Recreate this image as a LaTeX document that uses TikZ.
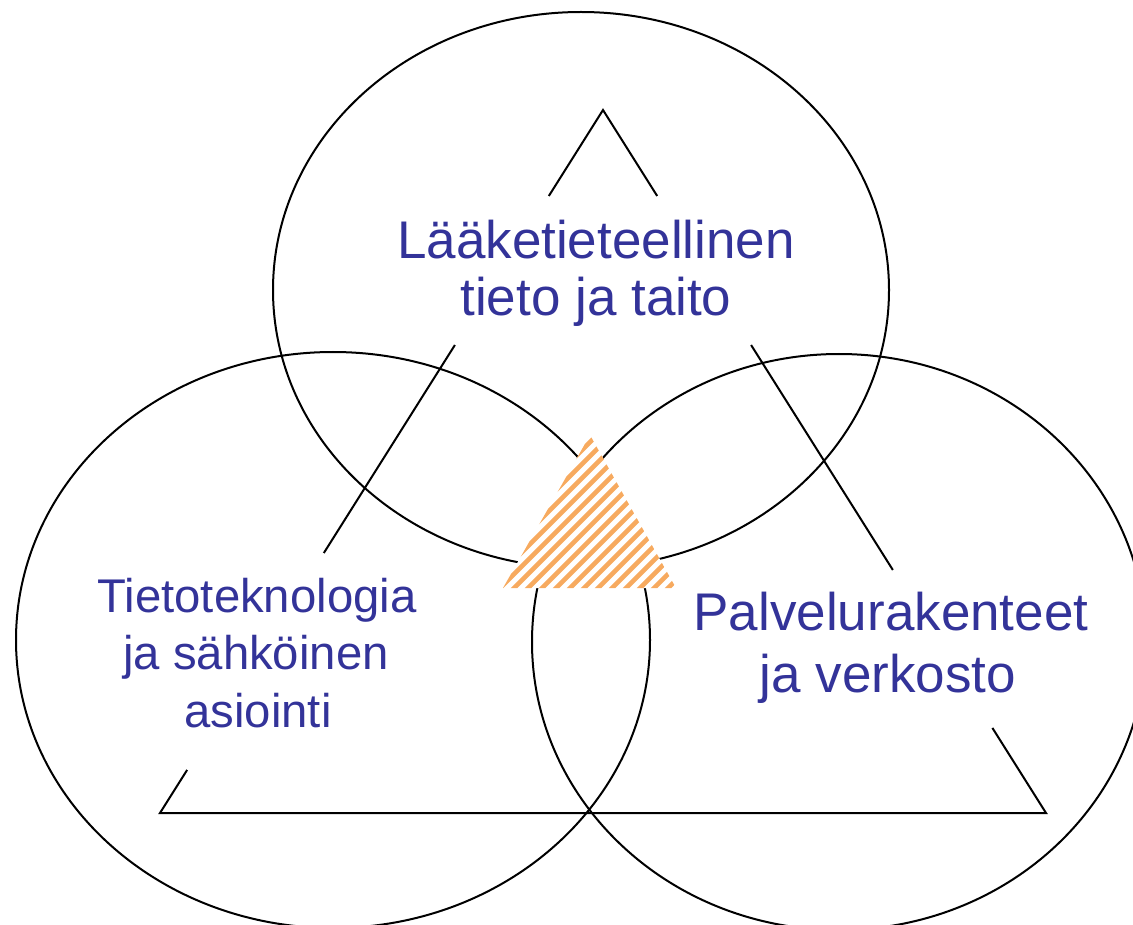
\documentclass[tikz,border=0pt]{standalone}
\usepackage{fontspec}
\setmainfont{Liberation Sans}
\usetikzlibrary{calc}
\definecolor{txtblue}{RGB}{51,51,153}
\definecolor{hatchorange}{RGB}{247,170,95}
\begin{document}
\begin{tikzpicture}[x=1pt,y=-1pt,
  outline/.style={line width=2pt, draw=black},
  lbl/.style={text=txtblue, inner sep=0pt, anchor=base},
  bigfont/.style={font=\fontsize{53}{60}\selectfont},
  smallfont/.style={font=\fontsize{47.3}{56}\selectfont},
  stripe/.style={draw=hatchorange, line width=4.6pt}
  ]
\useasboundingbox (0,0) rectangle (1133,925);
\clip (0,0) rectangle (1133,925);

% three circles
\draw[outline] (581,290) ellipse [x radius=308, y radius=278];
\draw[outline] (333,640) ellipse [x radius=317, y radius=288];
\draw[outline] (839,642) ellipse [x radius=307, y radius=288];

% big triangle with gaps
\coordinate (A) at (603,110);
\coordinate (B) at (160,813);
\coordinate (C) at (1046,813);
\draw[outline] ($(A)!0.1223!(B)$) -- (A) -- ($(A)!0.1223!(C)$);
\draw[outline] ($(A)!0.3343!(B)$) -- ($(A)!0.6302!(B)$);
\draw[outline] ($(A)!0.3343!(C)$) -- ($(A)!0.6543!(C)$);
\draw[outline] ($(A)!0.9388!(B)$) -- (B) -- (C) -- ($(A)!0.8790!(C)$);

% hatched centre triangle
\coordinate (H1) at (590,435);
\coordinate (H2) at (503,588);
\coordinate (H3) at (676,588);
\fill[white] (H1) -- (H2) -- (H3) -- cycle;
\begin{scope}
  \clip (H1) -- (H2) -- (H3) -- cycle;
  \foreach \c in {1018,1032,...,1290} {
    \draw[stripe] ({\c-620},620) -- ({\c-400},400);
  }
\end{scope}

% labels
\node[lbl, bigfont] (top1) at (596,259) {Lääketieteellinen};
\node[lbl, bigfont] (top2) at (596,316) {tieto ja taito};
\node[lbl, smallfont] (left1) at (257,612) {Tietoteknologia};
\node[lbl, smallfont] (left2) at (256,669) {ja sähköinen};
\node[lbl, smallfont] (left3) at (258,727) {asiointi};
\node[lbl, bigfont] (right1) at (891,630) {Palvelurakenteet};
\node[lbl, bigfont] (right2) at (888,692) {ja verkosto};
\end{tikzpicture}
\end{document}
